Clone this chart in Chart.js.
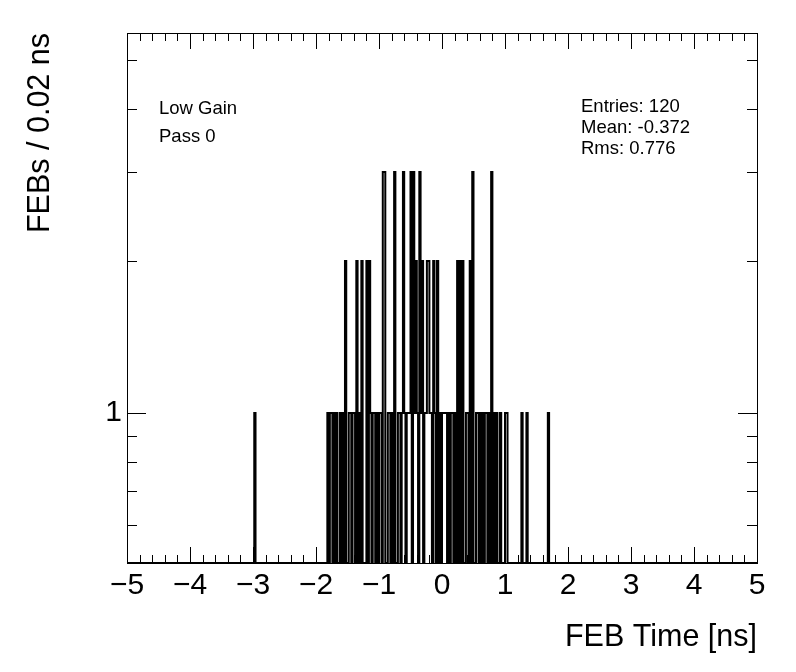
<!DOCTYPE html>
<html>
<head>
<meta charset="utf-8">
<script src="https://cdn.jsdelivr.net/npm/chart.js@4.4.1/dist/chart.umd.min.js"></script>
<style>
  html, body { margin: 0; padding: 0; background: #fff; }
  #wrap { width: 796px; height: 672px; position: relative; }
</style>
</head>
<body>
<div id="wrap"><canvas id="c"></canvas></div>
<script>
// ---- data ----
const X_MIN = -5, X_MAX = 5, BIN_WIDTH = 0.02;
const Y_MIN = 0.505, Y_MAX = 5.65;
const xTickLabels = [-5, -4, -3, -2, -1, 0, 1, 2, 3, 4, 5];
const yTickValues = [0.6, 0.7, 0.8, 0.9, 1, 2, 3, 4, 5];
const yLabelledTicks = [1];
// bin centres (ns) holding 3, 2 and 1 entries
const binsWithThree = [-0.93, -0.91, -0.75, -0.61, -0.49, -0.45, -0.35, 0.49, 0.79];
const binsWithTwo = [-1.53, -1.35, -1.27, -1.19, -1.15, -0.41, -0.31, -0.23, -0.21, -0.13, -0.07, 0.25, 0.29, 0.33, 0.45];
const binsWithOne = [-2.97, -1.81, -1.77, -1.75, -1.71, -1.67, -1.61, -1.57, -1.47, -1.45, -1.41, -1.39, -1.31,
  -1.13, -1.09, -1.07, -1.03, -0.99, -0.97, -0.85, -0.83, -0.79, -0.69, -0.67, -0.63, -0.59, -0.55, -0.53, -0.51,
  -0.43, -0.39, -0.33, -0.27, -0.25, -0.19, -0.17, -0.11, -0.03, 0.01, 0.03, 0.05, 0.07, 0.11, 0.15, 0.17, 0.21,
  0.39, 0.41, 0.55, 0.57, 0.61, 0.65, 0.69, 0.71, 0.75, 0.83, 0.87, 0.93, 1.01, 1.03, 1.27, 1.35, 1.69];
const labelLines = ["Low Gain", "Pass 0"];
const statLines = ["Entries: 120", "Mean: -0.372", "Rms: 0.776"];
const xTitle = "FEB Time [ns]";
const yTitle = "FEBs / 0.02 ns";

// ---- build histogram ----
const nBins = Math.round((X_MAX - X_MIN) / BIN_WIDTH);
const counts = new Array(nBins).fill(0);
function fill(list, n) {
  list.forEach(c => {
    const k = Math.round((c - X_MIN) / BIN_WIDTH - 0.5);
    counts[k] += n;
  });
}
fill(binsWithThree, 3); fill(binsWithTwo, 2); fill(binsWithOne, 1);
const outline = [];
for (let k = 0; k < nBins; k++) {
  const lo = X_MIN + k * BIN_WIDTH, hi = lo + BIN_WIDTH;
  const y = counts[k] > 0 ? counts[k] : Y_MIN;
  outline.push({ x: lo, y: y }, { x: hi, y: y });
}

const FONT = "'Liberation Sans', Arial, Helvetica, sans-serif";

const framePlugin = {
  id: 'rootFrame',
  afterDatasetsDraw(chart) {
    const { ctx, chartArea: a, scales } = chart;
    const xs = scales.x, ys = scales.y;
    ctx.save();
    ctx.strokeStyle = '#000';
    ctx.lineWidth = 1;
    ctx.beginPath();
    for (let i = 0; i <= 50; i++) {
      const v = X_MIN + i * 0.2;
      const px = Math.round(xs.getPixelForValue(v)) + 0.5;
      const major = i % 5 === 0;
      const len = major ? 16 : 8;
      ctx.moveTo(px, a.bottom); ctx.lineTo(px, a.bottom - len);
      ctx.moveTo(px, a.top); ctx.lineTo(px, a.top + len);
    }
    yTickValues.forEach(v => {
      const py = Math.round(ys.getPixelForValue(v)) + 0.5;
      const len = yLabelledTicks.includes(v) ? 19 : 10;
      ctx.moveTo(a.left, py); ctx.lineTo(a.left + len, py);
      ctx.moveTo(a.right, py); ctx.lineTo(a.right - len, py);
    });
    ctx.stroke();
    ctx.strokeRect(Math.round(a.left) + 0.5, Math.round(a.top) + 0.5,
      Math.round(a.right - a.left), Math.round(a.bottom - a.top));
    ctx.fillStyle = '#000';
    ctx.font = '18.5px ' + FONT;
    ctx.textBaseline = 'middle';
    ctx.textAlign = 'left';
    labelLines.forEach((t, i) => ctx.fillText(t, 159, 109 + i * 28));
    statLines.forEach((t, i) => ctx.fillText(t, 581, 107 + i * 21));
    ctx.restore();
  }
};

new Chart(document.getElementById('c'), {
  type: 'line',
  data: {
    datasets: [{
      data: outline,
      borderColor: '#000',
      borderWidth: 2,
      pointRadius: 0,
      tension: 0,
      fill: false,
      clip: 0
    }]
  },
  options: {
    responsive: true,
    maintainAspectRatio: false,
    animation: false,
    devicePixelRatio: 1,
    layout: { padding: { top: 33, right: 39, left: 0, bottom: 0 } },
    plugins: { legend: { display: false }, tooltip: { enabled: false } },
    scales: {
      x: {
        type: 'linear',
        min: X_MIN, max: X_MAX,
        afterFit(s) { s.height = 109; },
        afterBuildTicks(s) { s.ticks = xTickLabels.map(v => ({ value: v })); },
        grid: { display: false, drawTicks: false },
        border: { display: false },
        ticks: {
          color: '#000', padding: 5, maxRotation: 0, autoSkip: false,
          font: { family: FONT, size: 30 },
          callback: v => (v < 0 ? '\u2212' + Math.abs(v) : String(v))
        },
        title: {
          display: true, text: xTitle, align: 'end', color: '#000',
          font: { family: FONT, size: 30.5 },
          padding: { top: 0, bottom: 16 }
        }
      },
      y: {
        type: 'logarithmic',
        min: Y_MIN, max: Y_MAX,
        afterFit(s) { s.width = 127; },
        afterBuildTicks(s) { s.ticks = yTickValues.map(v => ({ value: v })); },
        grid: { display: false, drawTicks: false },
        border: { display: false },
        ticks: {
          color: '#000', padding: 5, autoSkip: false,
          font: { family: FONT, size: 30 },
          callback: v => (yLabelledTicks.includes(v) ? String(v) : '')
        },
        title: {
          display: true, text: yTitle, align: 'end', color: '#000',
          font: { family: FONT, size: 30.5 },
          padding: { top: 22, bottom: 0 }
        }
      }
    }
  },
  plugins: [framePlugin]
});
</script>
</body>
</html>
